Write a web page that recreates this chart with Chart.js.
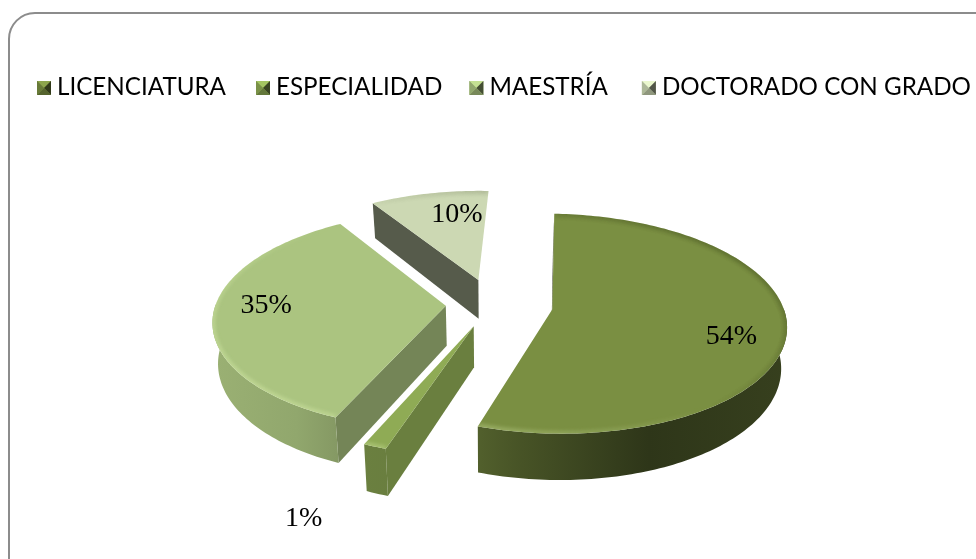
<!DOCTYPE html>
<html>
<head>
<meta charset="utf-8">
<title>Grado académico</title>
<script src="https://cdn.jsdelivr.net/npm/chart.js@4"></script>
<style>
  html, body { margin: 0; padding: 0; background: #fff; }
  canvas { display: block; }
</style>
</head>
<body>
<canvas id="pieChart" width="976" height="559"></canvas>
<script>
const categories = ['LICENCIATURA', 'ESPECIALIDAD', 'MAESTRÍA', 'DOCTORADO CON GRADO'];
// labels show whole percents, the decimals are estimated from the slice sizes
const sliceValues = [54.4, 1.4, 34.6, 9.6];

const sliceColors = ['#7a8f42', '#8fab55', '#abc480', '#ccd8b3'];
const sliceOffsets = [244, 200, 185, 220];
const faceShades = [0.35, 0.74, 0.68, 0.42];
const labelRadii = [0.78, 1.5, 0.78, 0.72];
const labelTurns = [8, 1.5, 4.5, 6];
const legendGaps = [30, 27, 34, 0];

// tilted view of the flat pie
const view = { tilt: 0.464, persp: 0.131, depth: 40, taper: 0.02 };
// wall brightness across the pie, [x from centre / radius, factor]
const wallShade = [[-1.2, 0.9], [-0.85, 0.85], [-0.6, 0.75], [-0.17, 0.72], [0.13, 0.58], [0.68, 0.38], [1.3, 0.45]];

function shade(hex, f) {
    const n = parseInt(hex.slice(1), 16);
    const c = [n >> 16, (n >> 8) & 255, n & 255].map(v => Math.round(Math.min(255, v * f)));
    return 'rgb(' + c.join(',') + ')';
}

function project(arc, rad, ang, z) {
    const R = arc.outerRadius;
    const mid = (arc.startAngle + arc.endAngle) / 2;
    const off = (arc.options.offset || 0) / 4;
    const u = (Math.cos(ang) * rad * R + Math.cos(mid) * off) / R;
    const v = -(Math.sin(ang) * rad * R + Math.sin(mid) * off) / R;
    const w = 1 + view.persp * v;
    return {
        x: arc.x + R * u / w * (1 - view.taper * z),
        y: arc.y - R * view.tilt * v / w + z * view.depth / w
    };
}

function rimAngles(arc) {
    const list = [];
    const steps = Math.max(2, Math.ceil((arc.endAngle - arc.startAngle) / 0.02));
    for (let i = 0; i <= steps; i++) {
        list.push(arc.startAngle + (arc.endAngle - arc.startAngle) * i / steps);
    }
    return list;
}

function fillPoly(ctx, pts, fill) {
    ctx.beginPath();
    pts.forEach((p, i) => i ? ctx.lineTo(p.x, p.y) : ctx.moveTo(p.x, p.y));
    ctx.closePath();
    ctx.fillStyle = fill;
    ctx.fill();
}

function drawSlice(ctx, arc, i) {
    const color = arc.options.backgroundColor;
    const angles = rimAngles(arc);
    const R = arc.outerRadius;

    // cut face, only the start side ever faces the viewer here
    const a0 = arc.startAngle;
    fillPoly(ctx, [project(arc, 0, a0, 0), project(arc, 1, a0, 0), project(arc, 1, a0, 1), project(arc, 0, a0, 1)],
        shade(color, faceShades[i]));

    // outer wall, front part of the rim
    const front = angles.filter(a => Math.sin(a) > -0.02);
    if (front.length > 1) {
        const grad = ctx.createLinearGradient(arc.x + wallShade[0][0] * R, 0, arc.x + wallShade[6][0] * R, 0);
        const span = wallShade[6][0] - wallShade[0][0];
        wallShade.forEach(s => grad.addColorStop((s[0] - wallShade[0][0]) / span, shade(color, s[1])));
        const wall = front.map(a => project(arc, 1, a, 0)).concat(front.slice().reverse().map(a => project(arc, 1, a, 1)));
        fillPoly(ctx, wall, grad);
    }

    // top
    const top = [project(arc, 0, arc.startAngle, 0)].concat(angles.map(a => project(arc, 1, a, 0)));
    fillPoly(ctx, top, color);

    // soft edge along the rim
    ctx.save();
    ctx.clip();
    ctx.filter = 'blur(2px)';
    ctx.lineWidth = 5;
    for (let k = 0; k < angles.length - 1; k++) {
        const a = angles[k];
        const l = -Math.cos(a) * 0.7 + Math.sin(a) * 0.5;
        const p = project(arc, 1, a, 0);
        const q = project(arc, 1, angles[k + 1], 0);
        ctx.strokeStyle = l > 0 ? 'rgba(235,255,190,' + (l * 0.5) + ')' : 'rgba(20,25,0,' + (-l * 0.35) + ')';
        ctx.beginPath();
        ctx.moveTo(p.x, p.y);
        ctx.lineTo(q.x, q.y);
        ctx.stroke();
    }
    ctx.restore();
}

function drawMarker(ctx, x, y, s, color) {
    const c = { x: x + s / 2, y: y + s / 2 };
    const a = { x: x, y: y }, b = { x: x + s, y: y }, d = { x: x + s, y: y + s }, e = { x: x, y: y + s };
    fillPoly(ctx, [a, b, d, e], color);
    fillPoly(ctx, [a, b, c], shade(color, 1.15));
    fillPoly(ctx, [b, d, c], shade(color, 0.4));
    fillPoly(ctx, [d, e, c], shade(color, 0.7));
    fillPoly(ctx, [e, a, c], shade(color, 0.85));
}

const pie3d = {
    id: 'pie3d',
    beforeDraw(chart) {
        const ctx = chart.ctx;
        ctx.save();
        ctx.strokeStyle = '#8c8c8c';
        ctx.lineWidth = 2;
        ctx.beginPath();
        ctx.roundRect(9, 13, 1000, 580, 26);
        ctx.stroke();
        ctx.restore();
    },
    beforeDatasetsDraw(chart) {
        const ctx = chart.ctx;
        const arcs = chart.getDatasetMeta(0).data;
        const order = arcs.map((a, i) => i).sort((p, q) => {
            const mid = a => (a.startAngle + a.endAngle) / 2;
            return Math.sin(mid(arcs[p])) - Math.sin(mid(arcs[q]));
        });
        order.forEach(i => drawSlice(ctx, arcs[i], i));

        // percent labels
        ctx.save();
        ctx.fillStyle = '#000';
        ctx.font = '28px "Liberation Serif"';
        ctx.textAlign = 'center';
        ctx.textBaseline = 'middle';
        arcs.forEach((arc, i) => {
            const turn = labelTurns[i] * Math.PI / 180;
            const p = project(arc, labelRadii[i], (arc.startAngle + arc.endAngle) / 2 + turn, 0);
            ctx.fillText(Math.round(sliceValues[i]) + '%', p.x, p.y);
        });
        ctx.restore();

        // legend row
        ctx.save();
        ctx.font = '24.2px Lato';
        ctx.textBaseline = 'middle';
        let x = 37;
        categories.forEach((name, i) => {
            drawMarker(ctx, x, 81, 14, arcs[i].options.backgroundColor);
            ctx.fillStyle = '#000';
            ctx.fillText(name, x + 20, 87);
            x += 20 + ctx.measureText(name).width + legendGaps[i];
        });
        ctx.restore();
        return false;
    }
};

new Chart(document.getElementById('pieChart'), {
    type: 'pie',
    data: {
        labels: categories,
        datasets: [{
            data: sliceValues,
            backgroundColor: sliceColors,
            offset: sliceOffsets,
            borderWidth: 0,
            radius: 230
        }]
    },
    options: {
        responsive: false,
        animation: false,
        rotation: 2.5,
        layout: { padding: { top: 134, bottom: 85, left: 8 } },
        plugins: { legend: { display: false }, tooltip: { enabled: false } }
    },
    plugins: [pie3d]
});
</script>
</body>
</html>
